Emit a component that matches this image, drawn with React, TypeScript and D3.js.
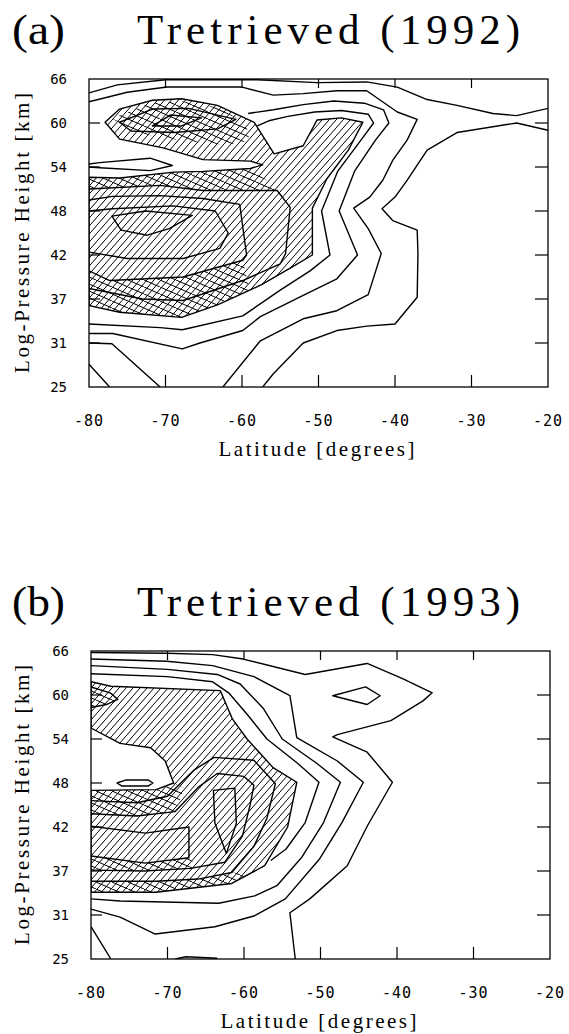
import React from "react";
import * as d3 from "d3";

type Pt = [number, number];

const LAT_TICKS = [-80, -70, -60, -50, -40, -30, -20];
const HEIGHT_TICKS = [25, 31, 37, 42, 48, 54, 60, 66];

// ---------- Panel (a) 1992 : contour lines [latitude, log-pressure height km] ----------
const a_P1: Pt[] = [[-80,64.1],[-76.3,65.2],[-70,65.9],[-58,65.9],[-50.2,65.5],[-43.7,65.6],[-39.7,64.9],[-35.8,63.2],[-31.9,62.4],[-27.2,61.3],[-24.1,61.0],[-20,62.0]];
const a_P2: Pt[] = [[-80,62.9],[-75,64.2],[-69.8,64.9],[-60,64.9],[-55.9,63.8],[-52,64.0],[-47.6,64.4],[-43.7,64.4],[-39.7,61.5],[-37.1,60.5],[-38.4,57.7],[-40.3,54.9],[-41.6,52.2],[-43.3,49.9],[-45.4,48.4],[-43.5,45.6],[-41.8,42.2],[-43.5,37.5],[-47.6,35.4],[-52,34.3],[-57.6,31.3],[-62.5,25]];
const a_R1: Pt[] = [[-20,59.0],[-24.1,60.0],[-31.9,58.7],[-35.8,56.3],[-38.4,52.2],[-40,49.9],[-41.7,48.3],[-40.3,46.7],[-37.1,45.4],[-37.0,42.2],[-37.1,37.2],[-40,33.6],[-43.7,33.3],[-47.6,32.7],[-52,31],[-55.9,26.8],[-57.3,25]];
const a_R3: Pt[] = [[-80,32.3],[-76.9,32.3],[-67.8,30.2],[-65.5,31],[-59.9,32.7],[-57.6,34.6],[-52,37.4],[-47.6,39.3],[-44.9,42],[-47.3,48],[-45.3,53.4],[-42.6,57.6],[-40.8,60],[-41.5,61.8],[-44,62.7],[-48,63],[-52,62.5],[-55.9,61.8],[-59.2,61.3]];
const a_R4: Pt[] = [[-80,33.6],[-70.7,33.1],[-67.8,32.8],[-59.9,34.7],[-55,38],[-51.1,40.2],[-48.5,42],[-49.6,48],[-47.5,53.4],[-44.5,57.6],[-42.8,60],[-43.5,61.2],[-47,61.7],[-50.5,61.5],[-54,60.9],[-56.5,60.3],[-58,59.6]];
const a_D: Pt[] = [[-80,28.1],[-77.3,25]];
const a_E: Pt[] = [[-80,31],[-77,30.9],[-70.7,25]];
const a_Lens: Pt[] = [[-80,54.4],[-78.6,54.6],[-72,55.2],[-69.1,54.2],[-72,53.5],[-78.6,53.9],[-80,54]];
const a_Ring1: Pt[] = [[-80,51],[-70.7,51.5],[-65.1,50.8],[-55.4,50.8],[-53.7,48.5],[-54.3,42.2],[-55,41],[-59.9,39.1],[-67.7,36.8],[-73,37],[-80,38.2]];
const a_Ring2: Pt[] = [[-80,49.5],[-76.9,50],[-70.7,50.1],[-65.1,49.7],[-60.3,48.9],[-59.4,42],[-59.9,41.4],[-67.7,39.5],[-77.3,39.1],[-80,40.2]];
const a_Ring3: Pt[] = [[-80,42.4],[-75,41.6],[-67.7,41.6],[-62.9,42.9],[-61.8,45],[-63.5,48],[-69,48.7],[-76.9,48.3],[-80,48]];
// closed contours
const a_Inner: Pt[] = [[-77,47.3],[-72.6,48],[-66.5,47.4],[-69.5,45.6],[-72.4,44.7],[-75.8,45.4]];
const a_TB2: Pt[] = [[-76,60.1],[-71.7,61.9],[-67,62],[-60.8,60.5],[-63.2,59.2],[-68.9,58.7],[-74.5,58.9]];
const a_TB3: Pt[] = [[-71.7,59.6],[-69.3,61.1],[-65.3,60.7],[-67.9,59.6]];
// hatched (single) region outline
const a_Hatch: Pt[] = [[-80,52.6],[-76,52.5],[-68.9,53.3],[-65.1,53.4],[-58.9,53.8],[-57.3,54.3],[-58.9,54.8],[-65.1,55.0],[-70.3,56.6],[-76,57.8],[-77.9,60.1],[-76,61.9],[-71.7,63.1],[-67.9,63.3],[-63.2,62.4],[-58.4,60.1],[-55.8,55.8],[-52,56.9],[-50.2,60.4],[-47,60.7],[-44.2,60.1],[-46.1,56.3],[-48.9,52.4],[-50.8,48.4],[-50.8,42],[-53.7,40.5],[-57.5,38.6],[-63.2,36.2],[-67.9,34.5],[-76,35.2],[-80,36.1]];
// cross-hatched regions
const a_Cross1: Pt[] = [[-77,60.6],[-72,62.7],[-67.9,63.0],[-63.2,62.1],[-59.5,60],[-59,57.6],[-62,57],[-68,57.6],[-74,58.7]];
const a_Cross2: Pt[] = [[-80,52.6],[-76,52.5],[-68.9,53.3],[-65.1,53.4],[-58.9,53.8],[-56.5,52],[-55.4,50.8],[-65.1,50.8],[-70.7,51.5],[-80,51]];
const a_Cross3: Pt[] = [[-80,36.1],[-76,35.2],[-67.9,34.5],[-63.2,36.2],[-59,38.0],[-59.9,41.4],[-67.7,39.5],[-77.3,39.1],[-80,40.2]];

// ---------- Panel (b) 1993 ----------
const b_B1: Pt[] = [[-80,65.8],[-70.1,65.7],[-64.1,65.5],[-60.1,64.9],[-52,62.8],[-43.9,64.3],[-39.2,62.2],[-35.4,60.3],[-36.6,59.2],[-40.8,56.5],[-47.8,54.6],[-48.4,54.3],[-43.9,52.2],[-40.6,48.1],[-43.9,42.1],[-46.5,37.6],[-51.4,33.2],[-54,31.3],[-53.3,25]];
const b_B2: Pt[] = [[-80,64.9],[-70.1,64.6],[-64.1,64],[-58.7,62.5],[-54,59.9],[-53.1,54.2],[-47.8,51],[-44.4,48.1],[-47.2,42.6],[-50.1,38.4],[-54.6,33.2],[-58.6,30.9],[-63.8,29.4],[-71.6,28.4],[-76.2,30.7],[-80,31.8]];
const b_B3: Pt[] = [[-80,64],[-70,63.5],[-63.5,62.8],[-60.5,61.5],[-57.5,58.2],[-55,54],[-50.5,50.7],[-47.4,48.1],[-49.6,42.6],[-52.5,38.5],[-55.7,35],[-58.6,33.6],[-63.3,32.6],[-71.9,32.8],[-76.2,32.9],[-80,33.2]];
const b_B4: Pt[] = [[-80,62.9],[-70,62.5],[-64.1,61.8],[-62,60.3],[-59.3,57],[-57,54],[-53,50.7],[-50.2,48.1],[-52,42.6],[-54.5,39.5],[-56.5,38.2]];
const b_Corner: Pt[] = [[-80,29.4],[-77.4,25]];
const b_Bottom: Pt[] = [[-69,25],[-67.6,25.3],[-63.5,25.1]];
const b_Tiny: Pt[] = [[-80,61.1],[-77.5,60.3],[-76.5,59.4],[-78,58.7],[-80,58.3]];
const b_I1: Pt[] = [[-80,45.6],[-74,45.3],[-70,46.2],[-66.5,49.8],[-63.9,51.5],[-58.7,51.1],[-55.9,47.9],[-57,43.2],[-58.7,39.8],[-61.6,36.8],[-66,35.9],[-71.5,35.6],[-80,35.6]];
const b_I2: Pt[] = [[-80,43.8],[-74,43.5],[-69,44.1],[-66,47.4],[-63.5,49.3],[-60,48.9],[-58.7,47.7],[-59.2,45],[-60.2,41],[-62.5,38],[-67,37.3],[-73,37],[-80,37.1]];
const b_I3: Pt[] = [[-80,42.1],[-72.9,41.3],[-67.2,42],[-67.2,38.5],[-72.9,37.9],[-80,38.7]];
// closed contours
const b_Diamond: Pt[] = [[-48.4,59.9],[-44.1,61.1],[-42.2,59.9],[-43.9,58.7]];
const b_Lens: Pt[] = [[-76.6,48],[-75.5,48.4],[-72.5,48.4],[-71.9,48],[-72.5,47.6],[-76,47.6]];
const b_I4: Pt[] = [[-64,47],[-61.2,47.3],[-61,42.5],[-62.3,39],[-63.8,42.5]];
// hatched region outline (outer edge, then the white pocket)
const b_Hatch: Pt[] = [[-80,61.8],[-77.4,61.2],[-63.1,60.6],[-61.5,56.7],[-59.6,54],[-56.2,50.1],[-53.1,48.1],[-54.3,42],[-57.3,37.6],[-61.6,35.3],[-71.5,34.1],[-80,34.1],[-80,47],[-71.5,47.1],[-69.2,48],[-70.3,51],[-72.2,52.8],[-76.2,53.4],[-80,55.5]];
const b_Cross1: Pt[] = [[-80,61.1],[-77.5,60.3],[-76.5,59.4],[-78,58.7],[-80,58.3]];
const b_Cross2: Pt[] = [[-80,47],[-71.5,47.1],[-69.2,48],[-67.8,47.3],[-69,44.1],[-74,43.5],[-80,43.8]];
const b_Cross3: Pt[] = [[-80,38.7],[-72.9,37.9],[-67.2,38.5],[-66,37.4],[-67,37.3],[-73,37],[-80,37.1]];
const b_Cross4: Pt[] = [[-80,34.1],[-71.5,34.1],[-61.6,35.3],[-59.5,36.6],[-61.6,36.8],[-66,35.9],[-71.5,35.6],[-80,35.6]];

interface PanelData {
  id: string;
  tag: string;
  title: string;
  x0: number;
  y0: number;
  open: Pt[][];
  closed: Pt[][];
  hatch: Pt[][];
  cross: Pt[][];
}

const PW = 459;
const PH = 308;

const panels: PanelData[] = [
  {
    id: "a", tag: "(a)", title: "Tretrieved (1992)", x0: 89, y0: 79,
    open: [a_P1, a_P2, a_R1, a_R3, a_R4, a_D, a_E, a_Lens, a_Ring1, a_Ring2, a_Ring3],
    closed: [a_Inner, a_TB2, a_TB3, a_Hatch],
    hatch: [a_Hatch],
    cross: [a_Cross1, a_Cross2, a_Cross3],
  },
  {
    id: "b", tag: "(b)", title: "Tretrieved (1993)", x0: 91, y0: 651,
    open: [b_B1, b_B2, b_B3, b_B4, b_Corner, b_Bottom, b_Tiny, b_I1, b_I2, b_I3],
    closed: [b_Diamond, b_Lens, b_I4, b_Hatch],
    hatch: [b_Hatch],
    cross: [b_Cross1, b_Cross2, b_Cross3, b_Cross4],
  },
];

const SERIF = "'Liberation Serif', 'DejaVu Serif', serif";
const MONO = "'DejaVu Sans Mono', 'Liberation Mono', monospace";

function Panel({ p }: { p: PanelData }) {
  const xs = d3.scaleLinear().domain([-80, -20]).range([p.x0, p.x0 + PW]);
  const ys = d3
    .scaleLinear()
    .domain(HEIGHT_TICKS)
    .range(HEIGHT_TICKS.map((_, i) => p.y0 + PH - (i * PH) / (HEIGHT_TICKS.length - 1)));
  const line = d3
    .line<Pt>()
    .x((d) => xs(d[0]))
    .y((d) => ys(d[1]));
  const clip = `clip-${p.id}`;
  const bottom = p.y0 + PH;
  const tl = 11;
  return (
    <g>
      <clipPath id={clip}>
        <rect x={p.x0} y={p.y0} width={PW} height={PH} />
      </clipPath>
      <text x={12} y={p.y0 - 35} fontFamily={SERIF} fontSize={43} textLength={53} lengthAdjust="spacingAndGlyphs">
        {p.tag}
      </text>
      <text x={137} y={p.y0 - 35} fontFamily={SERIF} fontSize={43} textLength={383} lengthAdjust="spacing">
        {p.title}
      </text>
      <g clipPath={`url(#${clip})`}>
        {p.hatch.map((h, i) => (
          <path key={"h" + i} d={line(h) + "Z"} fill="url(#hatch1)" stroke="none" />
        ))}
        {p.cross.map((h, i) => (
          <path key={"c" + i} d={line(h) + "Z"} fill="url(#hatch2)" stroke="none" />
        ))}
        {p.open.map((l, i) => (
          <path key={"o" + i} d={line(l) || ""} fill="none" stroke="#000" strokeWidth={1.4} strokeLinejoin="round" />
        ))}
        {p.closed.map((l, i) => (
          <path key={"k" + i} d={line(l) + "Z"} fill="none" stroke="#000" strokeWidth={1.4} strokeLinejoin="round" />
        ))}
      </g>
      <rect x={p.x0} y={p.y0} width={PW} height={PH} fill="none" stroke="#000" strokeWidth={1.3} />
      {LAT_TICKS.slice(1, -1).map((t) => (
        <g key={"xt" + t}>
          <line x1={xs(t)} x2={xs(t)} y1={bottom} y2={bottom - tl - 1} stroke="#000" strokeWidth={1.2} />
          <line x1={xs(t)} x2={xs(t)} y1={p.y0} y2={p.y0 + tl - 2} stroke="#000" strokeWidth={1.2} />
        </g>
      ))}
      {HEIGHT_TICKS.slice(1, -1).map((t) => (
        <g key={"yt" + t}>
          <line x1={p.x0} x2={p.x0 + tl} y1={ys(t)} y2={ys(t)} stroke="#000" strokeWidth={1.2} />
          <line x1={p.x0 + PW} x2={p.x0 + PW - tl - 2} y1={ys(t)} y2={ys(t)} stroke="#000" strokeWidth={1.2} />
        </g>
      ))}
      {LAT_TICKS.map((t) => (
        <text key={"xl" + t} x={xs(t)} y={bottom + 39} textAnchor="middle" fontFamily={MONO} fontSize={15} letterSpacing={1}>
          {t}
        </text>
      ))}
      {HEIGHT_TICKS.map((t) => (
        <text key={"yl" + t} x={p.x0 - 22} y={ys(t) + 5} textAnchor="end" fontFamily={MONO} fontSize={14}>
          {t}
        </text>
      ))}
      <text
        x={p.x0 + PW / 2 - 2}
        y={bottom + 69}
        textAnchor="middle"
        fontFamily={SERIF}
        fontSize={21}
        textLength={196}
        lengthAdjust="spacing"
      >
        Latitude [degrees]
      </text>
      <text
        transform={`translate(29,${p.y0 + PH / 2}) rotate(-90)`}
        textAnchor="middle"
        fontFamily={SERIF}
        fontSize={21}
        textLength={280}
        lengthAdjust="spacing"
      >
        Log-Pressure Height [km]
      </text>
    </g>
  );
}

export default function App() {
  return (
    <svg width={569} height={1034} viewBox="0 0 569 1034" style={{ display: "block", position: "absolute", left: 0, top: 0, background: "#fff" }}>
      <defs>
        <pattern id="hatch1" patternUnits="userSpaceOnUse" x={0} y={0} width={7} height={8}>
          <path d="M-1,9.14 L8,-1.14" stroke="#000" strokeWidth={1} fill="none" />
        </pattern>
        <pattern id="hatch2" patternUnits="userSpaceOnUse" x={0} y={0} width={16} height={7}>
          <path d="M-2,-0.875 L18,7.875" stroke="#000" strokeWidth={1} fill="none" />
        </pattern>
      </defs>
      <rect x={0} y={0} width={569} height={1034} fill="#fff" />
      {panels.map((p) => (
        <Panel key={p.id} p={p} />
      ))}
    </svg>
  );
}
